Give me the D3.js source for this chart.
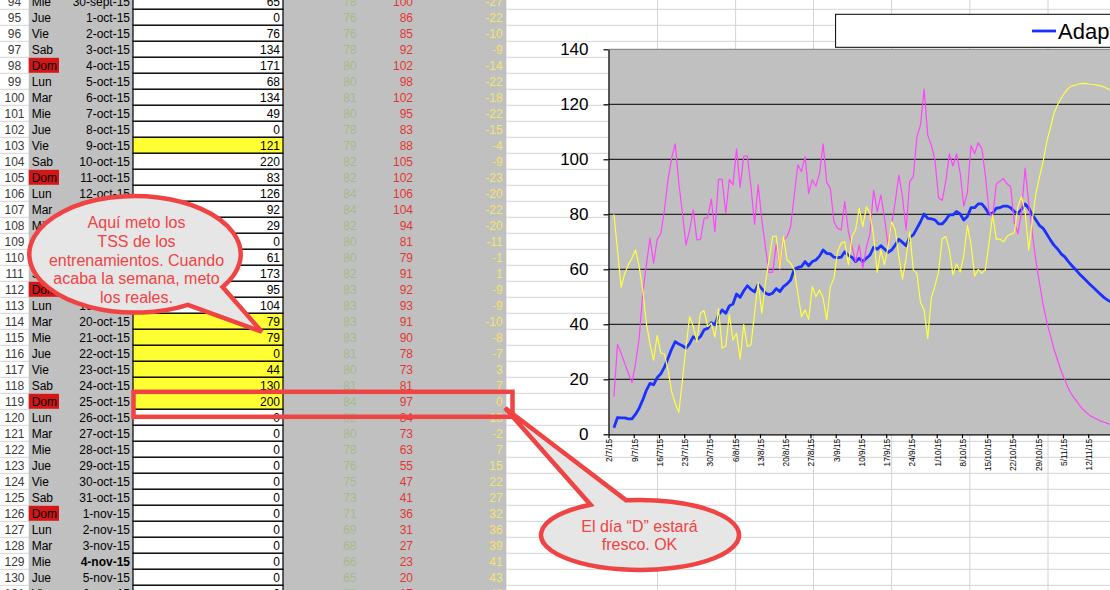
<!DOCTYPE html>
<html>
<head>
<meta charset="utf-8">
<style>
    body { margin: 0; overflow: hidden; background: #fff; }
    text { font-family: "Liberation Sans", Arial, Helvetica, sans-serif; }
</style>
</head>
<body>
<svg id="hoja"></svg>
<script src="https://cdn.jsdelivr.net/npm/d3@7"></script>
<script>
    // ---- hoja de cálculo (filas 94..131) ----
    let primeraFila = 94
    let dias = ["Mie", "Jue", "Vie", "Sab", "Dom", "Lun", "Mar", "Mie", "Jue", "Vie", "Sab", "Dom", "Lun",
        "Mar", "Mie", "Jue", "Vie", "Sab", "Dom", "Lun", "Mar", "Mie", "Jue", "Vie", "Sab", "Dom", "Lun",
        "Mar", "Mie", "Jue", "Vie", "Sab", "Dom", "Lun", "Mar", "Mie", "Jue", "Vie"]
    let fechas = ["30-sept-15", "1-oct-15", "2-oct-15", "3-oct-15", "4-oct-15", "5-oct-15", "6-oct-15",
        "7-oct-15", "8-oct-15", "9-oct-15", "10-oct-15", "11-oct-15", "12-oct-15", "13-oct-15", "14-oct-15",
        "15-oct-15", "16-oct-15", "17-oct-15", "18-oct-15", "19-oct-15", "20-oct-15", "21-oct-15",
        "22-oct-15", "23-oct-15", "24-oct-15", "25-oct-15", "26-oct-15", "27-oct-15", "28-oct-15",
        "29-oct-15", "30-oct-15", "31-oct-15", "1-nov-15", "2-nov-15", "3-nov-15", "4-nov-15", "5-nov-15",
        "6-nov-15"]
    let tss = [65, 0, 76, 134, 171, 68, 134, 49, 0, 121, 220, 83, 126, 92, 29, 0, 61, 173, 95, 104,
        79, 79, 0, 44, 130, 200, 0, 0, 0, 0, 0, 0, 0, 0, 0, 0, 0, 0]
    let ctlHoja = [78, 76, 76, 78, 80, 80, 81, 80, 78, 79, 82, 82, 84, 84, 82, 80, 80, 82, 83, 83,
        83, 83, 81, 80, 81, 84, 82, 80, 78, 76, 75, 73, 71, 69, 68, 66, 65, 63]
    let atlHoja = [100, 86, 85, 92, 102, 98, 102, 95, 83, 88, 105, 102, 106, 104, 94, 81, 79, 91, 92, 93,
        91, 90, 78, 73, 81, 97, 84, 73, 63, 55, 47, 41, 36, 31, 27, 23, 20, 17]
    let tsbHoja = [-27, -22, -10, -9, -14, -22, -18, -22, -15, -4, -9, -23, -20, -22, -20, -11, -1, 1, -9, -9,
        -10, -8, -7, 3, 7, 0, -13, -2, 7, 15, 22, 27, 32, 36, 39, 41, 43, 46]
    let filasAmarillas = [103, 114, 115, 116, 117, 118, 119]
    let filaNegrita = 129
    let filaMarcada = 119

    // ---- gráfico: una serie diaria desde el 3-jul-15 ----
    let inicioSerie = Date.UTC(2015, 6, 3)
    let adaptacion = [2.4, 6.1, 6, 6, 5.6, 5.6, 7.3, 9.5, 12.5, 16,
        18.5, 18, 20.6, 22, 24.4, 27.6, 31, 33.7, 32.8, 32.2,
        31.3, 33, 35.5, 34.5, 35.5, 38, 38.5, 40.6, 39.8, 43.4,
        45.2, 44, 46.7, 47.4, 51, 49.8, 52.2, 54, 52.7, 51.8,
        54.5, 53, 51.3, 50.8, 51.3, 53, 51.9, 53.7, 54.7, 56.1,
        60, 60.7, 61, 62.8, 61.3, 62.8, 63.4, 64.8, 67, 65.8,
        65.6, 64.4, 64.2, 64.4, 66.4, 65, 64.4, 62.8, 64, 62.8,
        64, 65.2, 68, 67.3, 68.6, 67.4, 66.2, 67, 68.8, 70.9,
        69.8, 68.6, 71.6, 72.5, 74.9, 77.3, 80.1, 78.5, 78.3, 78,
        76.5, 76.5, 77.9, 79.8, 79.8, 81, 80.1, 77.9, 79.2, 82.4,
        82.4, 83.8, 83.8, 82.2, 80.1, 80.4, 82.2, 82.4, 83, 83,
        82.4, 81, 80.4, 81.8, 83.8, 82.2, 79.8, 77.9, 75.9, 74.9,
        72.8, 70.7, 68.8, 67.4, 65.6, 64.5, 62.8, 61.3, 59.9, 58.4,
        57.1, 55.8, 54.5, 53.3, 52, 50.8, 49.6, 48.7, 48]
    let fatiga = [13.7, 32.7, 29.5, 25.8, 22.2, 18.8, 25.8, 34.9, 51.3, 61.6,
        71.3, 62.2, 70.9, 73, 81.6, 92.5, 100.4, 105.6, 91.3, 80.4,
        68.8, 74.3, 81.6, 70.7, 70.9, 78.5, 78.8, 85.5, 73.7, 92.7,
        92.7, 80.4, 92.7, 90.7, 103.8, 89.8, 101.2, 101.2, 90, 76.4,
        90.7, 78, 68.2, 58.9, 58.9, 69.1, 60, 70.7, 71.9, 75.5,
        87, 98, 95.5, 101, 87.6, 92.5, 90.3, 94.9, 105.6, 91.5,
        89.5, 77.3, 74.9, 74.3, 84.6, 73.7, 68.2, 62.8, 68.8, 60.4,
        68, 73.1, 88.8, 81, 87, 78.9, 68.8, 76.7, 84.6, 94.3,
        86.4, 74.3, 91.9, 93.7, 108.2, 112.5, 125.5, 108.8, 105.2, 99.8,
        86, 85, 92, 102, 97.5, 102, 95, 83, 88, 105,
        102, 106, 104, 94, 81, 79, 91, 92, 93, 91,
        90, 77, 73, 81, 96.8, 84, 73, 63, 55, 47,
        41, 36, 31, 27, 23, 19.8, 16.7, 14.3, 12.5, 10.7,
        9.1, 7.9, 6.8, 6.1, 5.5, 4.8, 4.4, 3.9, 3.5]
    let forma = [80, 67, 53.5, 58.5, 61.6, 64, 67, 61, 52.5, 40.4,
        33, 27, 36, 29.5, 29.2, 23.4, 15.5, 11.3, 8, 19.8,
        31.9, 42.8, 39.2, 33.7, 44, 45, 39.2, 40.4, 35.3, 45.8,
        31.3, 32.1, 43.6, 34.3, 36.7, 27.3, 40, 31.9, 32.5, 44,
        55.3, 44, 55, 63.4, 71.9, 72.1, 60.4, 71.9, 63.4, 62.2,
        59.8, 51.3, 42.8, 45.2, 41.8, 53.7, 50, 52.5, 49.5, 41.6,
        53.7, 56.7, 66.4, 69.5, 70.1, 61.6, 71.9, 74.3, 82.2, 75.5,
        82.8, 80.4, 71.9, 58.9, 67, 61.6, 68.2, 77.3, 74.3, 64.6,
        56.4, 64, 73.7, 59.8, 58.5, 47.9, 45.2, 34.9, 49.5, 54,
        59, 71, 72, 67, 58, 62, 59, 65, 76, 69,
        57.5, 60, 58.5, 60, 69.5, 79.8, 71, 71, 70, 72,
        72.8, 73.3, 82.8, 86.4, 81, 67, 78, 87.6, 93.7, 99.2,
        106.4, 111.3, 116.7, 119.8, 122.2, 124.2, 125.8, 126.7, 127, 127.4,
        127.6, 127.5, 127.3, 127.2, 127, 126.7, 126.2, 125.6, 125.2]
    let yTicks = [0, 20, 40, 60, 80, 100, 120, 140]
    let leyenda = "Adaptación"

    let nota1 = ["Aquí meto los", "TSS de los", "entrenamientos. Cuando", "acaba la semana, meto", "los reales."]
    let nota2 = ["El día “D” estará", "fresco. OK"]

    //Setup
    let width = 1110, height = 590
    let rowH = 16, row95Top = 9.3
    let rojo = "#f04343"
    let rowTop = r => row95Top + (r - 95) * rowH

    let svg = d3.select("#hoja").attr("width", width).attr("height", height)

    // rejilla de fondo de la hoja
    let grid = svg.append("g")
    grid.selectAll("line.h")
        .data(d3.range(-1, 37))
        .enter().append("line")
        .attr("x1", 0).attr("x2", width)
        .attr("y1", k => row95Top + k * rowH).attr("y2", k => row95Top + k * rowH)
        .attr("stroke", "#d4d4d4")
    grid.selectAll("line.v")
        .data([506, 657.5, 735.6, 813.5, 891.6, 969.8, 1048])
        .enter().append("line")
        .attr("x1", d => d).attr("x2", d => d)
        .attr("y1", 0).attr("y2", height)
        .attr("stroke", "#d4d4d4")

    // columnas grises
    svg.append("rect").attr("x", 28.7).attr("y", 0).attr("width", 104.3).attr("height", height).attr("fill", "#c0c0c0")
    svg.append("rect").attr("x", 283).attr("y", 0).attr("width", 223).attr("height", height).attr("fill", "#c0c0c0")

    let filas = fechas.map((f, i) => ({
        fila: primeraFila + i, dia: dias[i], fecha: f, tss: tss[i],
        ctl: ctlHoja[i], atl: atlHoja[i], tsb: tsbHoja[i]
    }))

    let fila = svg.append("g").selectAll("g")
        .data(filas)
        .enter().append("g")
        .attr("transform", d => `translate(0,${rowTop(d.fila)})`)
        .style("font-size", "12px")

    fila.append("text").text(d => d.fila).attr("x", 14.5).attr("y", 12.6)
        .attr("text-anchor", "middle").attr("fill", "#3a3a3a")
    fila.filter(d => d.dia === "Dom").append("rect")
        .attr("x", 28.7).attr("y", 0.5).attr("width", 30.3).attr("height", rowH - 1).attr("fill", "#d41616")
    fila.append("text").text(d => d.dia).attr("x", 31.7).attr("y", 12.6).attr("fill", "#000")
    fila.append("text").text(d => d.fecha).attr("x", 130).attr("y", 12.6)
        .attr("text-anchor", "end").attr("font-weight", d => d.fila === filaNegrita ? "bold" : null)
    fila.append("rect").attr("x", 133).attr("y", 0).attr("width", 150).attr("height", rowH)
        .attr("fill", d => filasAmarillas.includes(d.fila) ? "#ffff33" : "#fff")
        .attr("stroke", "#000").attr("stroke-width", 1.2)
    fila.append("text").text(d => d.tss).attr("x", 280).attr("y", 12.6).attr("text-anchor", "end")
    fila.append("text").text(d => d.ctl).attr("x", 356.7).attr("y", 12.6).attr("text-anchor", "end").attr("fill", "#a3bc8a")
    fila.append("text").text(d => d.atl).attr("x", 413).attr("y", 12.6).attr("text-anchor", "end").attr("fill", "#e23636")
    fila.append("text").text(d => d.tsb).attr("x", 502.7).attr("y", 12.6).attr("text-anchor", "end").attr("fill", "#f5e46e")

    // ---- gráfico ----
    let x0 = 608.5, pxDia = 3.607
    let x = d3.scaleUtc()
        .domain([Date.UTC(2015, 6, 2), Date.UTC(2015, 11, 3)])
        .range([x0, x0 + 154 * pxDia])
    let y = d3.scaleLinear().domain([0, 140]).range([434.3, 49.3])
    let fechaPunto = i => d3.utcHour.offset(d3.utcDay.offset(new Date(inicioSerie), i), 12)

    let chart = svg.append("g")
    chart.append("clipPath").attr("id", "plot").append("rect")
        .attr("x", x0).attr("y", y(140)).attr("width", width - x0).attr("height", y(0) - y(140))
    chart.append("rect").attr("x", x0).attr("y", y(140)).attr("width", width - x0).attr("height", y(0) - y(140))
        .attr("fill", "#c0c0c0")
    chart.selectAll("line.grid")
        .data(yTicks.slice(1))
        .enter().append("line")
        .attr("x1", x0).attr("x2", width)
        .attr("y1", d => y(d)).attr("y2", d => y(d))
        .attr("stroke", d => d === 140 ? "#7a7a7a" : "#000").attr("stroke-width", 1)

    let line = d3.line().x((d, i) => x(fechaPunto(i))).y(d => y(d))
    let series = [
        { values: adaptacion, color: "#1a32ff", w: 2.8 },
        { values: fatiga, color: "#ff44ff", w: 1.2 },
        { values: forma, color: "#ffff3c", w: 1.2 }
    ]
    chart.append("g").attr("clip-path", "url(#plot)")
        .selectAll("path")
        .data(series)
        .enter().append("path")
        .attr("d", d => line(d.values))
        .attr("fill", "none")
        .attr("stroke", d => d.color)
        .attr("stroke-width", d => d.w)
        .attr("stroke-linejoin", "round")

    let xAxis = d3.axisBottom(x)
        .tickValues(d3.utcDay.range(Date.UTC(2015, 6, 2), Date.UTC(2015, 10, 20), 7))
        .tickFormat(d3.utcFormat("%-d/%-m/%y"))
        .tickSize(4).tickSizeOuter(0)
    let gx = chart.append("g").attr("transform", `translate(0,${y(0)})`).call(xAxis)
    gx.selectAll("text")
        .attr("transform", "rotate(-90)")
        .attr("text-anchor", "end")
        .attr("x", -4.5).attr("y", 0).attr("dy", "0.4em")
        .style("font-size", "8.3px").attr("fill", "#000")
        .style("font-family", '"Liberation Sans", Arial, sans-serif')

    let yAxis = d3.axisLeft(y).tickValues(yTicks).tickSize(5).tickPadding(15).tickSizeOuter(0)
    let gy = chart.append("g").attr("transform", `translate(${x0},0)`).call(yAxis)
    gy.selectAll("text").style("font-size", "17px").attr("fill", "#000")
        .style("font-family", '"Liberation Sans", Arial, sans-serif')
    chart.selectAll(".domain, .tick line").attr("stroke", "#000").attr("stroke-width", 1.2)

    // leyenda
    let leg = chart.append("g")
    leg.append("rect").attr("x", 835.6).attr("y", 14.3).attr("width", 400).attr("height", 33)
        .attr("fill", "#fff").attr("stroke", "#000")
    leg.append("line").attr("x1", 1032).attr("x2", 1056).attr("y1", 31).attr("y2", 31)
        .attr("stroke", series[0].color).attr("stroke-width", 2.8)
    leg.append("text").text(leyenda).attr("x", 1058).attr("y", 39.3).style("font-size", "22px")

    // ---- notas ----
    function bocadillo(cx, cy, rx, ry, a1, a2, tip) {
        let p = a => [cx + rx * Math.cos(a * Math.PI / 180), cy + ry * Math.sin(a * Math.PI / 180)]
        let A = p(a1), B = p(a2)
        return `M${A} A${rx},${ry} 0 1 0 ${B} L${tip} Z`
    }

    let notas = svg.append("g")
    notas.append("rect").attr("x", 133.5).attr("y", rowTop(filaMarcada) - 1.5).attr("width", 379).attr("height", 25)
        .attr("fill", "none").attr("stroke", rojo).attr("stroke-width", 4.5)

    notas.append("path").attr("d", bocadillo(135, 254.3, 105.7, 58.3, 34, 60, [261.7, 331.7]))
        .attr("fill", "#e6e6e6").attr("stroke", rojo).attr("stroke-width", 4.5).attr("stroke-linejoin", "miter")
    notas.append("g").selectAll("text")
        .data(nota1)
        .enter().append("text")
        .text(d => d)
        .attr("x", 136.5).attr("y", (d, i) => 228 + i * 18.8)
        .attr("text-anchor", "middle").attr("fill", rojo).style("font-size", "16px")

    notas.append("path").attr("d", bocadillo(640, 535, 99, 35, 240, 262, [505, 408]))
        .attr("fill", "#e6e6e6").attr("stroke", rojo).attr("stroke-width", 4.5).attr("stroke-linejoin", "miter")
    notas.append("g").selectAll("text")
        .data(nota2)
        .enter().append("text")
        .text(d => d)
        .attr("x", 639.5).attr("y", (d, i) => 531.7 + i * 18.4)
        .attr("text-anchor", "middle").attr("fill", rojo).style("font-size", "16px")
</script>
</body>
</html>
